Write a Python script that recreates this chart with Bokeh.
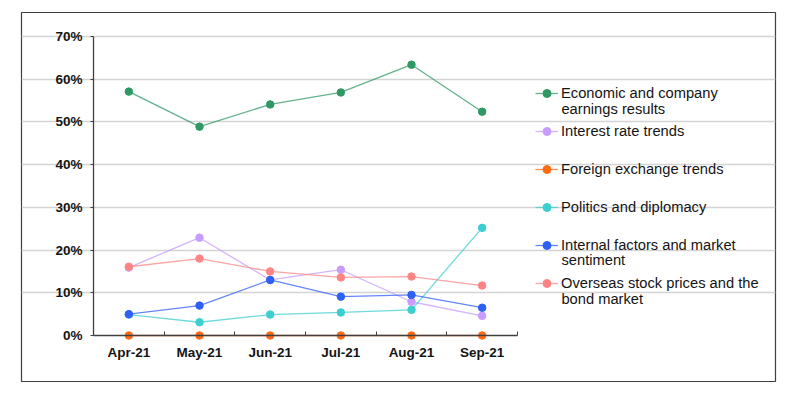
from bokeh.plotting import figure
from bokeh.models import (Range1d, FixedTicker, Legend, LegendItem, Label,
                          PrintfTickFormatter)
from bokeh.embed import file_html
from bokeh.resources import INLINE

months = ["Apr-21", "May-21", "Jun-21", "Jul-21", "Aug-21", "Sep-21"]

economic = [57.1, 48.9, 54.1, 56.9, 63.4, 52.4]
interest = [15.9, 22.9, 13.0, 15.4, 7.9, 4.6]
foreign = [0.0, 0.0, 0.0, 0.0, 0.0, 0.0]
politics = [4.9, 3.1, 4.9, 5.4, 6.0, 25.2]
internal = [5.0, 7.0, 13.0, 9.1, 9.5, 6.5]
overseas = [16.1, 18.0, 15.0, 13.6, 13.8, 11.7]

# legend labels: first line, and continuation line ("" if none)
series_names = [
    ("Economic and company", "earnings results"),
    ("Interest rate trends", ""),
    ("Foreign exchange trends", ""),
    ("Politics and diplomacy", ""),
    ("Internal factors and market", "sentiment"),
    ("Overseas stock prices and the", "bond market"),
]
series_values = [economic, interest, foreign, politics, internal, overseas]
series_colors = ["#2e9963", "#c79bff", "#ff6a14", "#3ccfcf", "#2f5ff5", "#ff8585"]
y_ticks = [0, 10, 20, 30, 40, 50, 60, 70]

n = len(months)
xs = [i + 0.5 for i in range(n)]

FONT = "Liberation Sans"

# frame = the chart box (21..775 x 12..381); px/unit: x 70.67, y 4.2714
p = figure(width=777, height=384, output_backend="svg", toolbar_location=None,
           x_range=Range1d(-1.019, 9.651), y_range=Range1d(-10.77, 75.62),
           min_border_left=21, min_border_top=12, min_border_bottom=3,
           min_border_right=2,
           outline_line_color="#404040", outline_line_width=1.2)

p.background_fill_color = "white"
p.border_fill_color = "white"

# x axis
p.xaxis.fixed_location = 0
p.xaxis.bounds = (0, n)
p.xaxis.ticker = FixedTicker(ticks=xs, minor_ticks=list(range(n + 1)))
p.xaxis.major_label_overrides = {x: m for x, m in zip(xs, months)}
p.xaxis.major_tick_line_color = None
p.xaxis.major_tick_in = 0
p.xaxis.major_tick_out = 0
p.xaxis.minor_tick_line_color = "#404040"
p.xaxis.minor_tick_in = 4
p.xaxis.minor_tick_out = 0
p.xaxis.axis_line_color = "#404040"
p.xaxis.axis_line_width = 1.3
p.xaxis.major_label_text_font = FONT
p.xaxis.major_label_text_font_style = "bold"
p.xaxis.major_label_text_font_size = "13.5px"
p.xaxis.major_label_text_color = "#141414"
p.xaxis.major_label_standoff = 10

# y axis
p.yaxis.fixed_location = 0
p.yaxis.ticker = FixedTicker(ticks=y_ticks, minor_ticks=[])
p.yaxis.bounds = (0, 70)
p.yaxis.formatter = PrintfTickFormatter(format="%d%%")
p.yaxis.major_tick_in = 0
p.yaxis.major_tick_out = 3
p.yaxis.major_tick_line_color = "#404040"
p.yaxis.axis_line_color = "#404040"
p.yaxis.axis_line_width = 1.3
p.yaxis.major_label_text_font = FONT
p.yaxis.major_label_text_font_style = "bold"
p.yaxis.major_label_text_font_size = "13.5px"
p.yaxis.major_label_text_color = "#141414"
p.yaxis.major_label_standoff = 8

p.xgrid.grid_line_color = None
p.ygrid.ticker = FixedTicker(ticks=y_ticks[1:])
p.ygrid.bounds = (0, n)
p.ygrid.grid_line_color = "#d4d4d4"
p.ygrid.grid_line_width = 1.3

items = []
for (name, _), vals, col in zip(series_names, series_values, series_colors):
    r1 = p.line(xs, vals, line_color=col, line_width=1.3, line_alpha=0.75)
    r2 = p.scatter(xs, vals, size=7.5, fill_color=col, line_color=col)
    items.append(LegendItem(label=name, renderers=[r1, r2]))

legend = Legend(items=items, location=(514, 88), orientation="vertical",
                label_text_font=FONT, label_text_font_size="14.7px",
                label_text_color="#141414",
                glyph_width=23, glyph_height=20, label_height=20,
                label_standoff=3, spacing=18, padding=0, margin=0,
                background_fill_alpha=0, border_line_color=None)
p.add_layout(legend, "center")

# second lines of the wrapped legend labels (data coords right of the plot)
cont_y = {0: 53.14, 4: 17.56, 5: 8.66}
for i, (_, cont) in enumerate(series_names):
    if cont:
        p.add_layout(Label(x=6.622, y=cont_y[i], text=cont,
                           text_font=FONT, text_font_size="14.7px",
                           text_color="#141414", text_baseline="middle",
                           text_align="left"))

open("out.html", "w").write(file_html(p, INLINE))
